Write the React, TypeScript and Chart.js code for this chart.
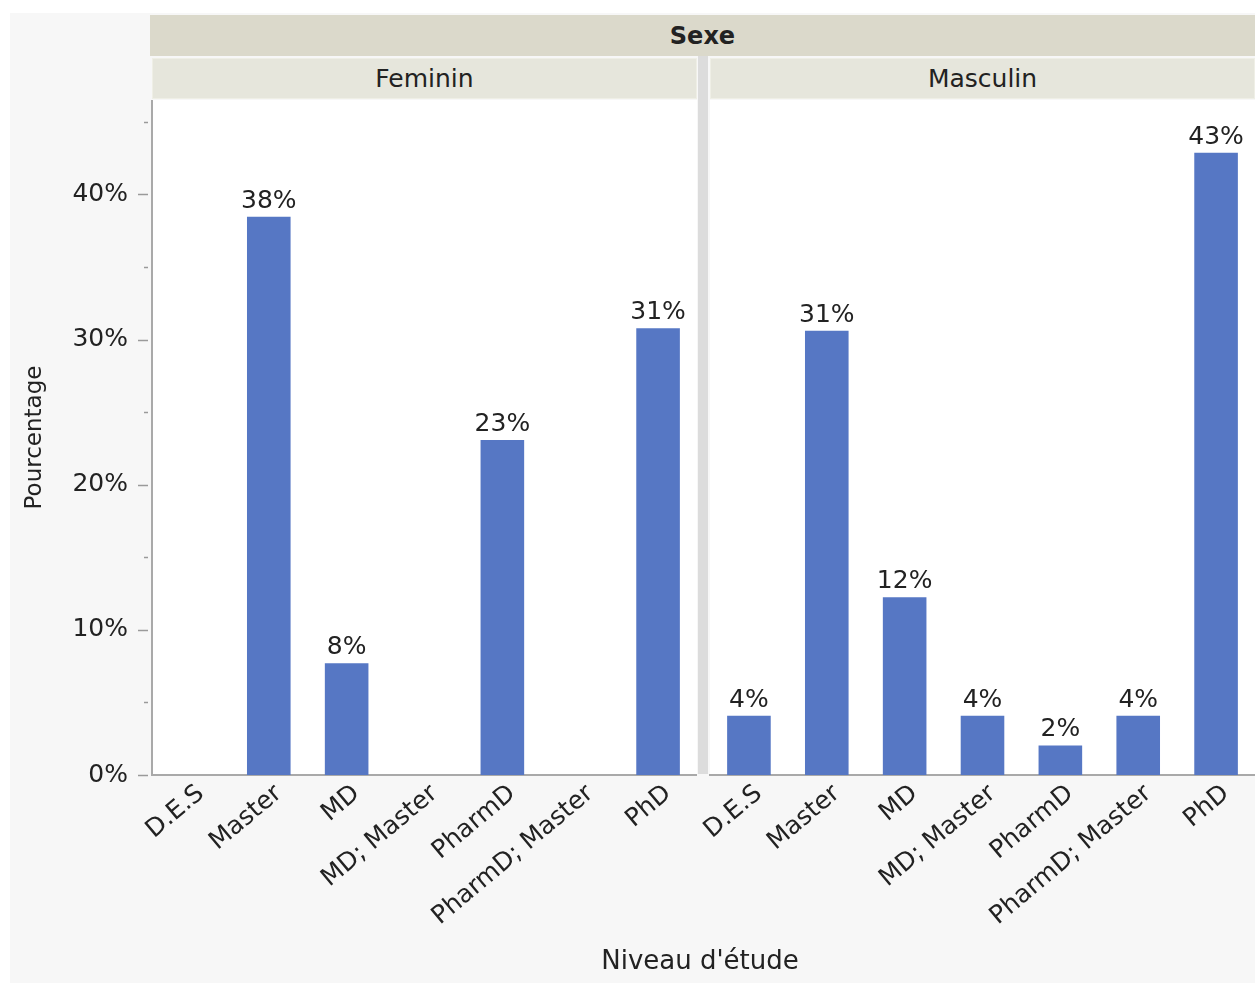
import React, { useEffect, useRef } from "react";
import { Chart, registerables } from "chart.js";

Chart.register(...registerables);

// ---- Data ----
const categories = ["D.E.S", "Master", "MD", "MD; Master", "PharmD", "PharmD; Master", "PhD"];
const femininValues = [0, 38.46, 7.69, 0, 23.08, 0, 30.77];
const masculinValues = [4.08, 30.61, 12.24, 4.08, 2.04, 4.08, 42.86];
const panelTitles = ["Feminin", "Masculin"];
const facetTitle = "Sexe";
const yTitle = "Pourcentage";
const xTitle = "Niveau d'étude";
const yMax = 46.5;
const yStep = 5;

const FONT = "'DejaVu Sans', 'Open Sans', sans-serif";
const BAR = "#5677c4";
const TEXT = "#222222";
const AXIS = "#a9a9a9";

const whiteArea = {
  id: "whiteArea",
  beforeDraw(chart: any) {
    const { ctx, chartArea } = chart;
    ctx.save();
    ctx.fillStyle = "#ffffff";
    ctx.fillRect(chartArea.left, chartArea.top, chartArea.right - chartArea.left, chartArea.bottom - chartArea.top);
    ctx.restore();
  },
};

const dataLabels = {
  id: "dataLabels",
  afterDatasetsDraw(chart: any) {
    const { ctx } = chart;
    const meta = chart.getDatasetMeta(0);
    const data = chart.data.datasets[0].data as number[];
    ctx.save();
    ctx.fillStyle = TEXT;
    ctx.font = `25px ${FONT}`;
    ctx.textAlign = "center";
    ctx.textBaseline = "bottom";
    meta.data.forEach((bar: any, i: number) => {
      const v = data[i];
      if (!v) return;
      ctx.fillText(`${Math.round(v)}%`, bar.x, bar.y - 3);
    });
    ctx.restore();
  },
};

const yTickMarks = {
  id: "yTickMarks",
  afterDraw(chart: any) {
    const y = chart.scales.y;
    if (!y.options.display) return;
    const { ctx, chartArea } = chart;
    ctx.save();
    ctx.strokeStyle = "#9a9a9a";
    ctx.lineWidth = 1.5;
    for (let v = 0; v <= yMax; v += yStep) {
      const py = Math.round(y.getPixelForValue(v)) + 0.5;
      const major = v % 10 === 0;
      const x1 = chartArea.left - 4;
      const x0 = x1 - (major ? 10 : 4);
      ctx.beginPath();
      ctx.moveTo(x0, py);
      ctx.lineTo(x1, py);
      ctx.stroke();
    }
    ctx.restore();
  },
};

function makeChart(canvas: HTMLCanvasElement, values: number[], showY: boolean, padLeft: number) {
  return new Chart(canvas, {
    type: "bar",
    data: {
      labels: categories,
      datasets: [
        {
          data: values,
          backgroundColor: BAR,
          borderWidth: 0,
          barPercentage: 0.56,
          categoryPercentage: 1,
        },
      ],
    },
    options: {
      responsive: false,
      animation: false,
      layout: { padding: { left: padLeft, right: 0, top: 0, bottom: 0 } },
      plugins: { legend: { display: false }, tooltip: { enabled: false } },
      scales: {
        x: {
          grid: { display: false, drawTicks: false },
          border: { display: true, color: AXIS, width: 2 },
          ticks: {
            color: TEXT,
            font: { family: FONT, size: 25 },
            minRotation: 40,
            maxRotation: 40,
            autoSkip: false,
            padding: 4,
            labelOffset: 10,
          },
          afterFit: (s: any) => {
            s.height = 175;
            s.paddingLeft = 0;
            s.paddingRight = 0;
          },
        },
        y: {
          display: showY,
          min: 0,
          max: yMax,
          grid: { display: false, drawTicks: false },
          border: { display: true, color: AXIS, width: 2 },
          ticks: {
            stepSize: yStep,
            color: TEXT,
            font: { family: FONT, size: 25 },
            padding: 24,
            callback: (v: any) => (Number(v) % 10 === 0 ? `${v}%` : ""),
          },
          title: {
            display: true,
            text: yTitle,
            color: TEXT,
            font: { family: FONT, size: 23 },
            padding: { top: 11, bottom: 0 },
          },
          afterFit: (s: any) => {
            s.width = showY ? 142 : 0;
            s.paddingTop = 0;
            s.paddingBottom = 0;
          },
        },
      },
    },
    plugins: [whiteArea, dataLabels, yTickMarks],
  } as any);
}

function Panel({ values, showY, left, width, padLeft }: { values: number[]; showY: boolean; left: number; width: number; padLeft: number }) {
  const ref = useRef<HTMLCanvasElement | null>(null);
  useEffect(() => {
    if (!ref.current) return;
    const c = makeChart(ref.current, values, showY, padLeft);
    return () => c.destroy();
  }, [values, showY, padLeft]);
  return (
    <canvas
      ref={ref}
      width={width}
      height={850}
      style={{ position: "absolute", left, top: 100, width, height: 850 }}
    />
  );
}

export default function App() {
  const header: React.CSSProperties = {
    position: "absolute",
    display: "flex",
    alignItems: "center",
    justifyContent: "center",
    fontFamily: FONT,
    color: TEXT,
    boxSizing: "border-box",
  };
  return (
    <div style={{ position: "absolute", left: 0, top: 0, width: 1255, height: 983, background: "#ffffff", overflow: "hidden" }}>
      <div style={{ position: "absolute", left: 10, top: 13, width: 1245, height: 970, background: "#f7f7f7" }} />
      <div style={{ ...header, left: 150, top: 15, width: 1105, height: 41, background: "#dbd9cb", fontWeight: 700, fontSize: 24 }}>
        {facetTitle}
      </div>
      <div style={{ ...header, left: 152, top: 58, width: 545, height: 41, background: "#e6e6dc", fontSize: 25, border: "1px solid #efefe6" }}>
        {panelTitles[0]}
      </div>
      <div style={{ ...header, left: 710, top: 58, width: 545, height: 41, background: "#e6e6dc", fontSize: 25, border: "1px solid #efefe6" }}>
        {panelTitles[1]}
      </div>
      <div style={{ position: "absolute", left: 698, top: 56, width: 10, height: 718, background: "#dcdcdc" }} />
      <Panel values={femininValues} showY={true} left={10} width={687} padLeft={0} />
      <Panel values={masculinValues} showY={false} left={630} width={625} padLeft={80} />
      <div style={{ ...header, left: 450, top: 940, width: 500, height: 40, fontSize: 26 }}>{xTitle}</div>
    </div>
  );
}
